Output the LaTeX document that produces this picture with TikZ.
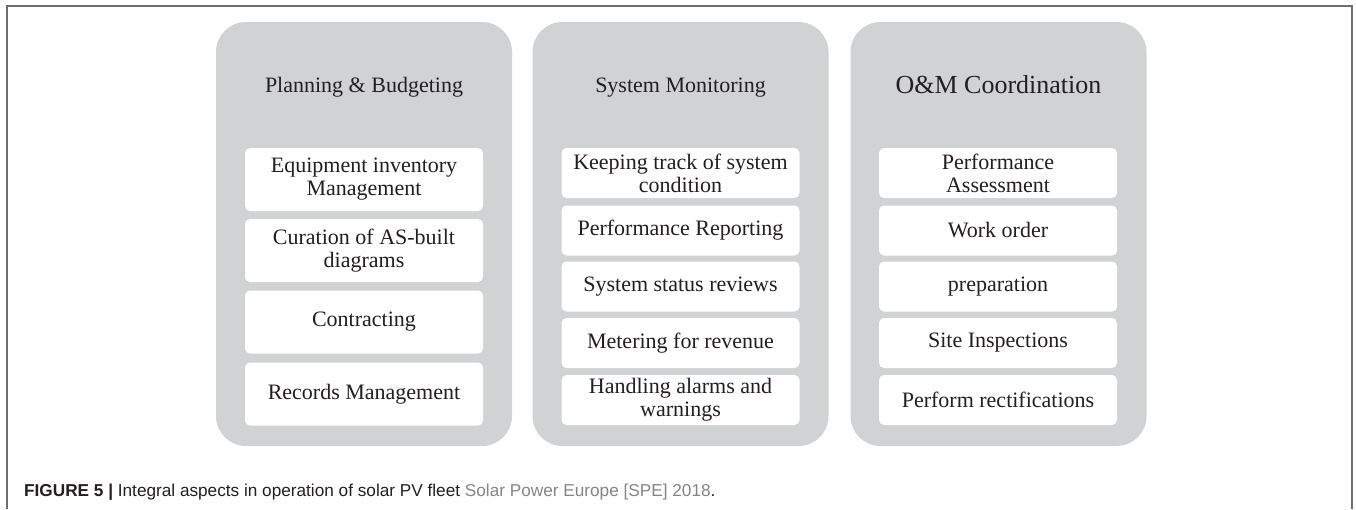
\documentclass[tikz,border=0pt]{standalone}
\usepackage{fontspec}
\setmainfont{Liberation Serif}
\newfontfamily\capfont{Liberation Sans}
\definecolor{panelgray}{HTML}{D1D2D4}
\definecolor{framegray}{HTML}{6E6E6E}
\definecolor{ink}{HTML}{231F20}
\definecolor{citegray}{HTML}{858585}
\begin{document}
\begin{tikzpicture}[x=1pt,y=-1pt,
  panel/.style={fill=panelgray, draw=none, rounded corners=30pt,
    minimum width=296pt, minimum height=424pt, inner sep=0pt},
  paneltitle/.style={anchor=base, inner sep=0pt, text=ink,
    font=\fontsize{22}{23}\selectfont},
  item/.style={fill=white, draw=none, rounded corners=5pt, inner sep=0pt,
    minimum width=238pt, align=center, text=ink,
    font=\fontsize{22}{23}\selectfont},
  tallitem/.style={item, minimum height=63pt},
  shortitem/.style={item, minimum height=50pt},
  frame/.style={draw=framegray, line width=1.3pt}]
  \useasboundingbox (0,0) rectangle (1356,509);

  % outer frame (open at the bottom)
  \coordinate (fbl) at (7,509);
  \coordinate (ftl) at (7,6);
  \coordinate (ftr) at (1352,6);
  \coordinate (fbr) at (1352,509);
  \draw[frame] (fbl) -- (ftl) -- (ftr) -- (fbr);

  % three grey panels
  \node[panel] (p1) at (364,234) {};
  \node[panel] (p2) at (680.5,234) {};
  \node[panel] (p3) at (998.5,234) {};

  % panel headings
  \node[paneltitle] (t1) at (364,92.5) {Planning \& Budgeting};
  \node[paneltitle] (t2) at (680.5,92.5) {System Monitoring};
  \node[paneltitle, font=\fontsize{26}{27}\selectfont] (t3) at (998.5,93) {O\&M Coordination};

  % Planning & Budgeting items
  \node[tallitem] (a1) at (364,179.5) {Equipment inventory\\Management};
  \node[tallitem] (a2) at (364,250.5) {Curation of AS-built\\diagrams};
  \node[tallitem] (a3) at (364,322) {Contracting};
  \node[tallitem] (a4) at (364,394) {Records Management};

  % System Monitoring items
  \node[shortitem] (b1) at (680.5,173) {Keeping track of system\\condition};
  \node[shortitem] (b2) at (680.5,230.5) {Performance Reporting};
  \node[shortitem] (b3) at (680.5,286.5) {System status reviews};
  \node[shortitem] (b4) at (680.5,343) {Metering for revenue};
  \node[shortitem] (b5) at (680.5,400) {Handling alarms and\\warnings};

  % O&M Coordination items
  \node[shortitem] (c1) at (998,173) {Performance\\Assessment};
  \node[shortitem] (c2) at (998,230.5) {Work order};
  \node[shortitem] (c3) at (998,286.5) {preparation};
  \node[shortitem] (c4) at (998,343) {Site Inspections};
  \node[shortitem] (c5) at (998,400) {Perform rectifications};

  % caption
  \node[anchor=base west, inner sep=0pt, text=ink,
    font=\capfont\fontsize{17.2}{19}\selectfont] (cap) at (24,496)
    {\textbf{FIGURE 5 |} Integral aspects in operation of solar PV fleet \textcolor{citegray}{Solar Power Europe [SPE] 2018}.};
\end{tikzpicture}
\end{document}
